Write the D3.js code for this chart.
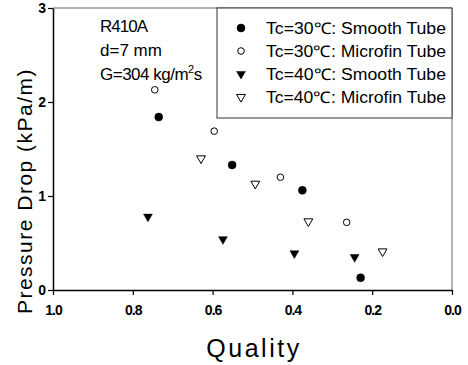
<!DOCTYPE html>
<html>
<head>
<meta charset="utf-8">
<script src="https://cdn.jsdelivr.net/npm/d3@7"></script>
<style>
  body { margin: 0; background: #fff; }
  text { font-family: "Liberation Sans", Arial, sans-serif; fill: #000; }
</style>
</head>
<body>
<div id="chart"></div>
<script>
	//size of page
	var w = 468;
	var h = 365;

	//plot box (note: "top" is taken by window.top, so use plot* names)
	var plotLeft = 53, plotRight = 452, plotTop = 8, plotBottom = 290;

	//data
	var quality30Smooth = [0.735, 0.551, 0.375, 0.229];
	var dp30Smooth      = [1.84, 1.33, 1.06, 0.13];
	var quality30Micro  = [0.745, 0.596, 0.430, 0.264];
	var dp30Micro       = [2.13, 1.69, 1.20, 0.72];
	var quality40Smooth = [0.762, 0.574, 0.395, 0.244];
	var dp40Smooth      = [0.78, 0.54, 0.39, 0.35];
	var quality40Micro  = [0.629, 0.493, 0.360, 0.174];
	var dp40Micro       = [1.40, 1.13, 0.73, 0.41];

	var xTicks = [1.0, 0.8, 0.6, 0.4, 0.2, 0.0];
	var yTicks = [0, 1, 2, 3];

	var seriesNames = ["Tc=30\u2103: Smooth Tube", "Tc=30\u2103: Microfin Tube",
	                   "Tc=40\u2103: Smooth Tube", "Tc=40\u2103: Microfin Tube"];

	var series = [
		{ name: seriesNames[0], q: quality30Smooth, p: dp30Smooth, shape: "circle",   filled: true },
		{ name: seriesNames[1], q: quality30Micro,  p: dp30Micro,  shape: "circle",   filled: false },
		{ name: seriesNames[2], q: quality40Smooth, p: dp40Smooth, shape: "triangle", filled: true },
		{ name: seriesNames[3], q: quality40Micro,  p: dp40Micro,  shape: "triangle", filled: false }
	];

	var svg = d3.select("#chart").append("svg")
		.attr("width", w)
		.attr("height", h);

	var x = d3.scaleLinear().domain([1, 0]).range([plotLeft, plotRight]);
	var y = d3.scaleLinear().domain([0, 3]).range([plotBottom, plotTop]);

	//frame on top and right (thin grey)
	svg.append("path")
		.attr("d", "M" + plotLeft + "," + plotTop + "H" + plotRight + "V" + plotBottom)
		.attr("fill", "none")
		.attr("stroke", "#666")
		.attr("stroke-width", 1);

	//axes
	var xAxis = svg.append("g")
		.attr("transform", "translate(0," + plotBottom + ")")
		.call(d3.axisBottom(x).tickValues(xTicks).tickFormat(d3.format(".1f"))
			.tickSize(5).tickPadding(10).tickSizeOuter(0));

	var yAxis = svg.append("g")
		.attr("transform", "translate(" + plotLeft + ",0)")
		.call(d3.axisLeft(y).tickValues(yTicks).tickFormat(d3.format("d"))
			.tickSize(5).tickPadding(3).tickSizeOuter(0));

	[xAxis, yAxis].forEach(function(a) {
		a.select(".domain").attr("stroke", "#000").attr("stroke-width", 1.5);
		a.selectAll(".tick line").attr("stroke", "#000").attr("stroke-width", 1.2);
		a.selectAll(".tick text")
			.attr("font-size", 14)
			.attr("font-weight", "bold")
			.attr("letter-spacing", "-1px")
			.style("font-family", "'Liberation Sans', Arial, sans-serif")
			.attr("fill", "#000");
	});

	//axis titles
	svg.append("text")
		.attr("x", 254)
		.attr("y", 357)
		.attr("text-anchor", "middle")
		.attr("font-size", 25)
		.attr("letter-spacing", "2.5px")
		.text("Quality");

	svg.append("text")
		.attr("transform", "translate(32,191) rotate(-90)")
		.attr("text-anchor", "middle")
		.attr("font-size", 21)
		.attr("letter-spacing", "1.5px")
		.text("Pressure Drop (kPa/m)");

	//markers
	var tri = d3.symbol().type(d3.symbolTriangle).size(34);

	function drawMarker(g, shape, filled, cx, cy) {
		if (shape == "circle") {
			g.append("circle")
				.attr("cx", cx)
				.attr("cy", cy)
				.attr("r", filled ? 4 : 3.3)
				.attr("fill", filled ? "#000" : "#fff")
				.attr("stroke", "#000")
				.attr("stroke-width", filled ? 0.5 : 1);
		} else {
			g.append("path")
				.attr("d", tri)
				.attr("transform", "translate(" + cx + "," + cy + ") rotate(180)")
				.attr("fill", filled ? "#000" : "#fff")
				.attr("stroke", "#000")
				.attr("stroke-width", filled ? 0.5 : 1);
		}
	}

	var points = svg.append("g");
	series.forEach(function(s) {
		s.q.forEach(function(q, i) {
			drawMarker(points, s.shape, s.filled, x(q), y(s.p[i]));
		});
	});

	//legend box
	var legend = svg.append("g");
	legend.append("rect")
		.attr("x", 217)
		.attr("y", plotTop)
		.attr("width", plotRight - 217)
		.attr("height", 110)
		.attr("fill", "#fff")
		.attr("stroke", "#333")
		.attr("stroke-width", 1);

	series.forEach(function(s, i) {
		var ly = 28 + i * 23;
		drawMarker(legend, s.shape, s.filled, 241, ly);
		legend.append("text")
			.attr("x", 266)
			.attr("y", ly + 6)
			.attr("font-size", 16)
			.attr("textLength", 180)
			.attr("lengthAdjust", "spacingAndGlyphs")
			.text(s.name);
	});

	//annotation
	var note = svg.append("g").attr("font-size", 17);
	note.append("text").attr("x", 100).attr("y", 32).attr("letter-spacing", "-1px").text("R410A");
	note.append("text").attr("x", 100).attr("y", 56).text("d=7 mm");
	var gt = note.append("text").attr("x", 100).attr("y", 80).attr("letter-spacing", "-0.5px");
	gt.append("tspan").text("G=304 kg/m");
	gt.append("tspan").attr("dy", -7).attr("font-size", 11).text("2");
	gt.append("tspan").attr("dy", 7).text("s");
</script>
</body>
</html>
